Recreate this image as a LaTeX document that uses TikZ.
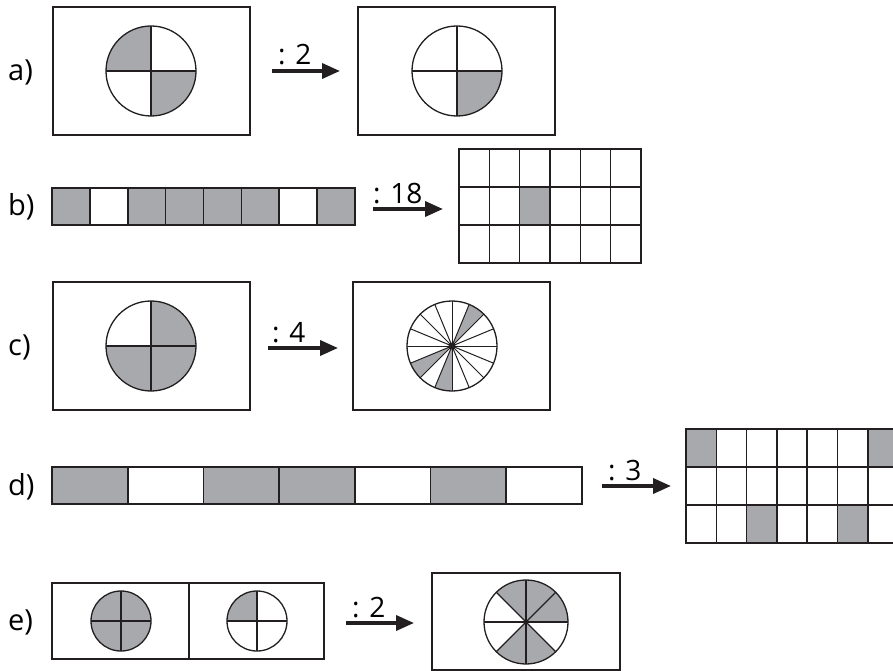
\documentclass[tikz,border=0pt]{standalone}
\usepackage{fontspec}
\setmainfont{Open Sans}
\usetikzlibrary{arrows.meta}
\definecolor{greyfill}{HTML}{A7A9AC}
\definecolor{ink}{HTML}{231F20}
\newcommand{\sect}[5]{\fill[greyfill] (#1,#2) -- +({-(#4)}:#3) arc[start angle={-(#4)}, end angle={-(#5)}, radius=#3] -- cycle;}
\begin{document}
\begin{tikzpicture}[x=1pt,y=-1pt,
 frame/.style={draw=ink,line width=1.3pt},
 cellbox/.style={draw=ink,line width=1.6pt},
 lbl/.style={font=\fontsize{29}{32}\selectfont,inner sep=0pt,anchor=west},
 op/.style={font=\fontsize{28}{30}\selectfont,inner sep=0pt,anchor=base west},
 arr/.style={draw=ink,line width=3.6pt,-{Triangle[length=18pt,width=15pt]}},
 disk/.style={draw=ink,line width=1.3pt},
 spoke/.style={draw=ink,line width=1.2pt}]
\useasboundingbox (0,0) rectangle (893,671);
\clip (0,0) rectangle (893,671);
\fill[white] (0,0) rectangle (893,671);

% ---------- a)
\node[lbl] (la) at (8,72) {a)};
\node[frame,minimum width=197pt,minimum height=128pt,inner sep=0pt] (a1) at (151.5,71) {};
\sect{151}{71}{45}{90}{180}
\sect{151}{71}{45}{270}{360}
\draw[spoke] (106,71) -- (196,71) (151,26) -- (151,116);
\draw[disk] (151,71) circle[radius=45];
\coordinate (as) at (272,71); \coordinate (ae) at (340,71);
\draw[arr] (as) -- (ae);
\node[op] (ta) at (278,65) {: 2};
\node[frame,minimum width=197pt,minimum height=128pt,inner sep=0pt] (a2) at (456.5,71) {};
\sect{457}{71}{45}{270}{360}
\draw[spoke] (412,71) -- (502,71) (457,26) -- (457,116);
\draw[disk] (457,71) circle[radius=45];

% ---------- b)
\node[lbl] (lb) at (8,207) {b)};
\foreach \i/\g in {0/1,1/0,2/1,3/1,4/1,5/1,6/0,7/1}{
  \ifnum\g=1 \fill[greyfill] ({52+\i*37.875},188) rectangle ({52+(\i+1)*37.875},225);\fi
}
\foreach \i in {0,...,7}{
  \draw[cellbox] ({52+\i*37.875},188) rectangle ({52+(\i+1)*37.875},225);
}
\coordinate (bs) at (373,209); \coordinate (be) at (443,209);
\draw[arr] (bs) -- (be);
\node[op] (tb) at (373,203) {: 18};
\fill[greyfill] ({459+2*30.333},187) rectangle ({459+3*30.333},225);
\foreach \c in {0,...,5}{\foreach \r in {0,1,2}{
  \draw[cellbox] ({459+\c*30.333},{149+\r*38}) rectangle ({459+(\c+1)*30.333},{149+(\r+1)*38});
}}
\node[inner sep=0pt,minimum width=182pt,minimum height=114pt] (b2) at (550,206) {};

% ---------- c)
\node[lbl] (lc) at (8,347) {c)};
\node[frame,minimum width=197pt,minimum height=128pt,inner sep=0pt] (c1) at (151.5,346) {};
\sect{151}{346}{45}{0}{90}
\sect{151}{346}{45}{180}{360}
\draw[spoke] (106,346) -- (196,346) (151,301) -- (151,391);
\draw[disk] (151,346) circle[radius=45];
\coordinate (cs) at (268,348); \coordinate (ce) at (338,348);
\draw[arr] (cs) -- (ce);
\node[op] (tc) at (272,342) {: 4};
\node[frame,minimum width=197pt,minimum height=128pt,inner sep=0pt] (c2) at (451.5,346) {};
\sect{452}{346}{45}{45}{67.5}
\sect{452}{346}{45}{202.5}{225}
\sect{452}{346}{45}{247.5}{270}
\foreach \k in {0,...,7}{
  \draw[spoke,line width=1pt] (452,346) +({-\k*22.5}:45) -- +({180-\k*22.5}:45);
}
\draw[disk] (452,346) circle[radius=45];
\fill[ink] (452,346) circle[radius=3.5];

% ---------- d)
\node[lbl] (ld) at (8,487) {d)};
\foreach \i/\g in {0/1,1/0,2/1,3/1,4/0,5/1,6/0}{
  \ifnum\g=1 \fill[greyfill] ({52+\i*75.714},467) rectangle ({52+(\i+1)*75.714},504);\fi
}
\foreach \i in {0,...,6}{
  \draw[cellbox] ({52+\i*75.714},467) rectangle ({52+(\i+1)*75.714},504);
}
\coordinate (ds) at (602,486); \coordinate (de) at (671,486);
\draw[arr] (ds) -- (de);
\node[op] (td) at (608,480) {: 3};
\foreach \c/\r in {0/0,6/0,2/2,5/2}{
  \fill[greyfill] ({686+\c*30.3},{429+\r*38}) rectangle ({686+(\c+1)*30.3},{429+(\r+1)*38});
}
\foreach \c in {0,...,6}{\foreach \r in {0,1,2}{
  \draw[cellbox] ({686+\c*30.3},{429+\r*38}) rectangle ({686+(\c+1)*30.3},{429+(\r+1)*38});
}}

% ---------- e)
\node[lbl] (le) at (8,622) {e)};
\node[frame,minimum width=137pt,minimum height=76pt,inner sep=0pt] (e1) at (120.5,621) {};
\node[frame,minimum width=135pt,minimum height=76pt,inner sep=0pt] (e2) at (256.5,621) {};
\fill[greyfill] (121,621) circle[radius=30];
\draw[spoke] (91,621) -- (151,621) (121,591) -- (121,651);
\draw[disk] (121,621) circle[radius=30];
\sect{257}{621}{30}{90}{180}
\draw[spoke] (227,621) -- (287,621) (257,591) -- (257,651);
\draw[disk] (257,621) circle[radius=30];
\coordinate (es) at (346,623); \coordinate (ee) at (414,623);
\draw[arr] (es) -- (ee);
\node[op] (te) at (352,617) {: 2};
\draw[frame] (432,573) rectangle (620,670);
\node[inner sep=0pt,minimum width=188pt,minimum height=97pt] (e3) at (526,621.5) {};
\sect{526}{622}{42}{0}{135}
\sect{526}{622}{42}{225}{315}
\foreach \k in {0,...,3}{
  \draw[spoke] (526,622) +({-\k*45}:42) -- +({180-\k*45}:42);
}
\draw[disk] (526,622) circle[radius=42];
\fill[ink] (526,622) circle[radius=2.5];
\end{tikzpicture}
\end{document}
